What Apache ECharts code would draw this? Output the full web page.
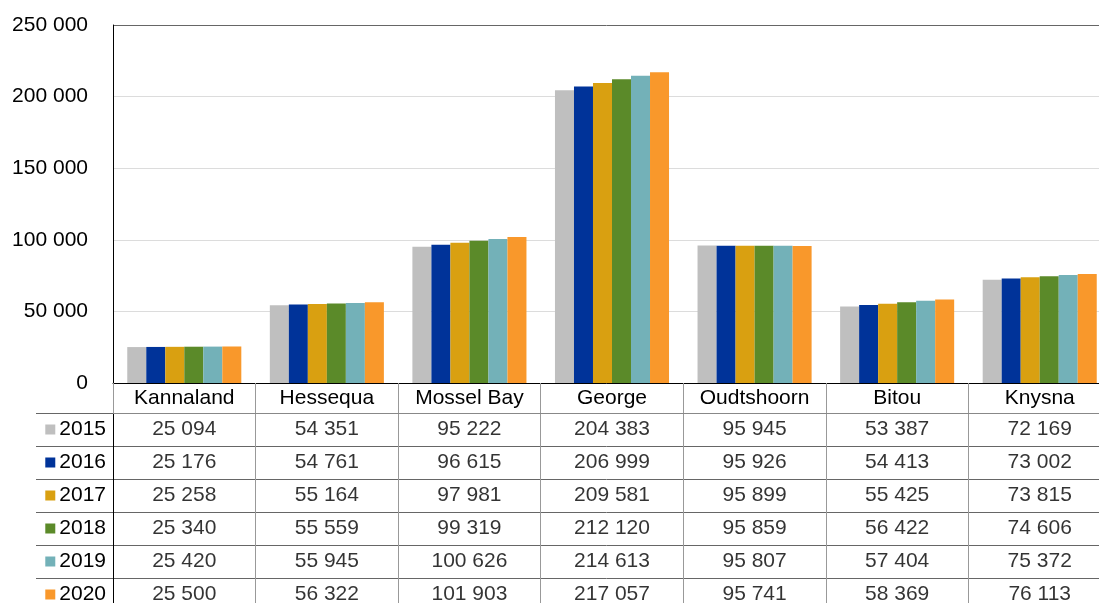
<!DOCTYPE html>
<html>
<head>
<meta charset="utf-8">
<script src="https://cdn.jsdelivr.net/npm/echarts@6/dist/echarts.min.js"></script>
<style>
html,body{margin:0;padding:0;background:#fff;}
#chart{width:1099px;height:603px;}
</style>
</head>
<body>
<div id="chart"></div>
<script>
const categories = ['Kannaland','Hessequa','Mossel Bay','George','Oudtshoorn','Bitou','Knysna'];
const years = ['2015','2016','2017','2018','2019','2020'];
const v2015 = [25094, 54351, 95222, 204383, 95945, 53387, 72169];
const v2016 = [25176, 54761, 96615, 206999, 95926, 54413, 73002];
const v2017 = [25258, 55164, 97981, 209581, 95899, 55425, 73815];
const v2018 = [25340, 55559, 99319, 212120, 95859, 56422, 74606];
const v2019 = [25420, 55945, 100626, 214613, 95807, 57404, 75372];
const v2020 = [25500, 56322, 101903, 217057, 95741, 58369, 76113];
const yTicks = [0, 50000, 100000, 150000, 200000, 250000];
const colors = ['#bfbfbf','#003399','#d9a011','#5b8a29','#73b1b8','#f9982b'];
const valuesByYear = [v2015, v2016, v2017, v2018, v2019, v2020];

const FONT = 'Liberation Sans, Arial, sans-serif';
const FS = 21;
const fmt = v => String(v).replace(/\B(?=(\d{3})+(?!\d))/g, ' ');

const chart = echarts.init(document.getElementById('chart'), null, {renderer:'canvas'});

const rich = {};
years.forEach((y, i) => {
  rich['sq' + i] = {backgroundColor: colors[i], width: 10, height: 10};
  rich['t' + i] = {fontSize: FS, fontFamily: FONT, color: '#000', padding: [0,0,0,4]};
});

const barSeries = years.map((y, i) => ({
  name: y, type: 'bar', xAxisIndex: 0, yAxisIndex: 0,
  data: valuesByYear[i],
  itemStyle: {color: colors[i]},
  barGap: '0%', barCategoryGap: '20%',
  silent: true
}));

const tableSeries = years.map((y, i) => ({
  type: 'scatter', xAxisIndex: 1, yAxisIndex: 1,
  symbolSize: 0,
  data: valuesByYear[i].map((v, c) => [categories[c], y, v]),
  label: {
    show: true, position: 'inside',
    formatter: p => fmt(p.value[2]),
    fontSize: FS, fontFamily: FONT, color: '#000'
  },
  labelLayout: {hideOverlap: false},
  silent: true
}));

chart.setOption({
  animation: false,
  backgroundColor: '#fff',
  grid: [
    {left: 113, top: 25, height: 358, width: 998, containLabel: false, outerBoundsMode: 'none'},
    {left: 113, top: 413, height: 198, width: 998, containLabel: false, outerBoundsMode: 'none'}
  ],
  xAxis: [
    {
      type: 'category', gridIndex: 0, data: categories,
      axisLine: {lineStyle: {color: '#000', width: 1}},
      axisTick: {show: true, interval: 0, length: 30, lineStyle: {color: '#999'}},
      axisLabel: {interval: 0, hideOverlap: false, fontSize: FS, fontFamily: FONT, color: '#000', margin: 5},
      splitLine: {show: false}
    },
    {
      type: 'category', gridIndex: 1, data: categories, position: 'top',
      axisLine: {show: true, lineStyle: {color: '#888'}},
      axisTick: {show: false, interval: 0},
      axisLabel: {show: false, interval: 0},
      splitLine: {show: true, interval: 0, lineStyle: {color: '#999'}}
    }
  ],
  yAxis: [
    {
      type: 'value', gridIndex: 0, min: 0, max: 250000, interval: 50000,
      axisLine: {show: true, lineStyle: {color: '#000'}},
      axisTick: {show: false},
      axisLabel: {fontSize: FS, fontFamily: FONT, color: '#000', margin: 25,
        formatter: v => fmt(v)},
      splitLine: {show: true, lineStyle: {color: ['#dcdcdc','#dcdcdc','#dcdcdc','#dcdcdc','#dcdcdc','#666']}}
    },
    {
      type: 'category', gridIndex: 1, data: years, inverse: true,
      axisLine: {show: true, lineStyle: {color: '#000'}},
      axisTick: {show: true, interval: 0, length: 77, lineStyle: {color: '#666'}},
      axisLabel: {
        interval: 0,
        margin: 7,
        formatter: (v, i) => '{sq' + i + '|}{t' + i + '|' + v + '}',
        rich: rich
      },
      splitLine: {show: true, interval: 0, lineStyle: {color: '#666'}}
    },
    {
      type: 'category', gridIndex: 1, data: years, inverse: true, offset: 77,
      axisLine: {show: true, lineStyle: {color: '#666'}},
      axisTick: {show: false}, axisLabel: {show: false}, splitLine: {show: false}
    }
  ],
  series: barSeries.concat(tableSeries)
});
</script>
</body>
</html>
